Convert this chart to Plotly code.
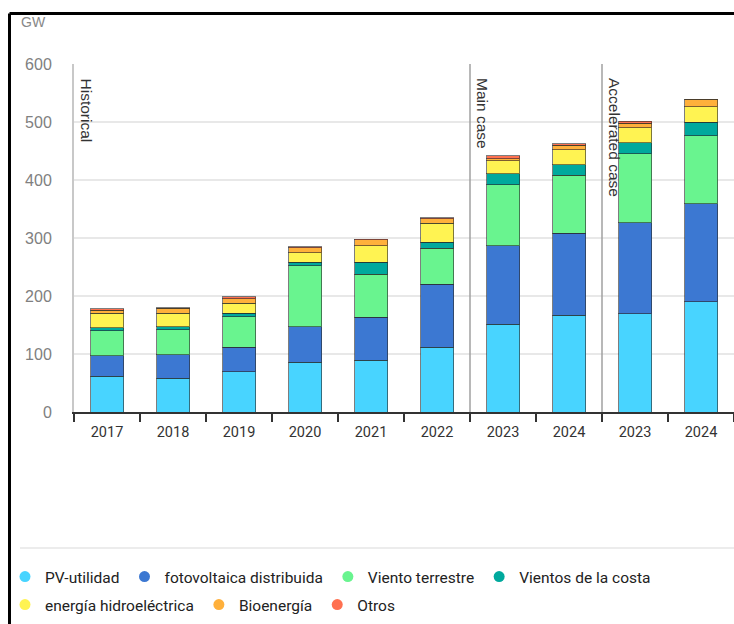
import plotly.graph_objects as go

# Installed renewable capacity by technology (GW)
years = ["2017", "2018", "2019", "2020", "2021", "2022", "2023", "2024", "2023", "2024"]
pv_utility = [62, 58, 69, 86, 89, 112, 151, 167, 169, 190]
pv_distributed = [35, 41, 42.5, 61, 74.5, 108, 136, 141, 157, 169]
wind_onshore = [43, 43, 53, 105, 74, 62.5, 105, 100.5, 119, 117]
wind_offshore = [5, 5, 6, 6, 21, 10, 18.5, 18, 19, 23.5]
hydro = [25, 23.5, 17, 17, 28.5, 33, 22.5, 26, 26.5, 27]
bioenergy = [5.5, 8.5, 8, 8.5, 10, 8, 4, 7, 7, 12.5]
other = [2.5, 0.5, 3, 1, 1, 1.2, 4.5, 3, 3.5, 0.5]

series = [
    ("PV-utilidad", pv_utility, "#48d4ff"),
    ("fotovoltaica distribuida", pv_distributed, "#3c78d2"),
    ("Viento terrestre", wind_onshore, "#69f48f"),
    ("Vientos de la costa", wind_offshore, "#00a99d"),
    ("energía hidroeléctrica", hydro, "#fff352"),
    ("Bioenergía", bioenergy, "#ffb03b"),
    ("Otros", other, "#ff7050"),
]

# Section labels and the positions of the dividers between them
sections = [("Historical", -0.5), ("Main case", 5.5), ("Accelerated case", 7.5)]

W, H = 734, 624
PLOT_L, PLOT_R, PLOT_T, PLOT_B = 74, 734, 64, 412


def px_x(px):
    return (px - PLOT_L) / (PLOT_R - PLOT_L)


def px_y(py):
    return (PLOT_B - py) / (PLOT_B - PLOT_T)


xs = list(range(len(years)))
fig = go.Figure()

for name, vals, color in series:
    fig.add_bar(
        x=xs, y=vals, name=name, showlegend=False,
        marker=dict(color=color, line=dict(color="rgba(40,40,40,0.6)", width=1)),
        hovertemplate=name + ": %{y} GW<extra></extra>",
    )

# Round legend markers, split over two rows
for i, (name, vals, color) in enumerate(series):
    fig.add_scatter(
        x=[None], y=[None], mode="markers", name=name,
        marker=dict(color=color, size=11),
        legend="legend" if i < 4 else "legend2",
    )

legend_style = dict(
    orientation="h", xanchor="left", yanchor="middle", traceorder="normal",
    x=px_x(5), bgcolor="rgba(0,0,0,0)", itemwidth=30,
    font=dict(family="Roboto", size=15.5, color="#222"),
)

shapes = []
for label, pos in sections[1:]:
    shapes.append(dict(type="line", xref="x", yref="y", x0=pos, x1=pos, y0=0, y1=600,
                       line=dict(color="#a0a0a0", width=1.5), layer="above"))
# frame edges and legend separator
shapes.append(dict(type="line", xref="paper", yref="paper",
                   x0=px_x(9.5), x1=px_x(W), y0=px_y(13.5), y1=px_y(13.5),
                   line=dict(color="#000", width=3)))
shapes.append(dict(type="line", xref="paper", yref="paper",
                   x0=px_x(9.5), x1=px_x(9.5), y0=px_y(13.5), y1=px_y(H + 2),
                   line=dict(color="#000", width=3)))
shapes.append(dict(type="line", xref="paper", yref="paper",
                   x0=px_x(20), x1=px_x(W), y0=px_y(548), y1=px_y(548),
                   line=dict(color="#ececec", width=2)))

annotations = []
for label, pos in sections:
    annotations.append(dict(
        text=label, x=pos, xref="x", y=600, yref="y",
        xanchor="left", yanchor="top", xshift=2, yshift=-12,
        textangle=90, showarrow=False,
        font=dict(family="Liberation Sans", size=15.5, color="#333"),
    ))
annotations.append(dict(
    text="GW", xref="paper", yref="paper", x=px_x(19), y=px_y(22),
    xanchor="left", yanchor="middle", showarrow=False,
    font=dict(family="Liberation Sans", size=14, color="#888"),
))

fig.update_layout(
    width=W, height=H,
    margin=dict(l=PLOT_L, r=W - PLOT_R, t=PLOT_T, b=H - PLOT_B, autoexpand=False),
    barmode="stack", bargap=0.5,
    plot_bgcolor="white", paper_bgcolor="white",
    showlegend=True,
    legend=dict(legend_style, y=px_y(577)),
    legend2=dict(legend_style, y=px_y(605)),
    shapes=shapes, annotations=annotations,
    xaxis=dict(
        range=[-0.5, len(years) - 0.5], tickmode="array", tickvals=xs, ticktext=years,
        ticks="", showgrid=False, zeroline=False,
        showline=True, linecolor="#333", linewidth=1.5,
        tickfont=dict(family="Roboto", size=14.5, color="#333"),
        ticklabelstandoff=6,
        minor=dict(tickmode="array", tickvals=[i - 0.5 for i in range(len(years) + 1)],
                   ticks="outside", ticklen=8, tickwidth=1.5, tickcolor="#333", showgrid=False),
    ),
    yaxis=dict(
        range=[0, 600], dtick=100, ticks="",
        showgrid=True, gridcolor="#e8e8e8", gridwidth=1.5, zeroline=False,
        showline=True, linecolor="#c8c8c8", linewidth=2,
        tickfont=dict(family="Liberation Sans", size=16, color="#808080"),
        ticklabelstandoff=17,
    ),
)

fig.write_html("out.html")
